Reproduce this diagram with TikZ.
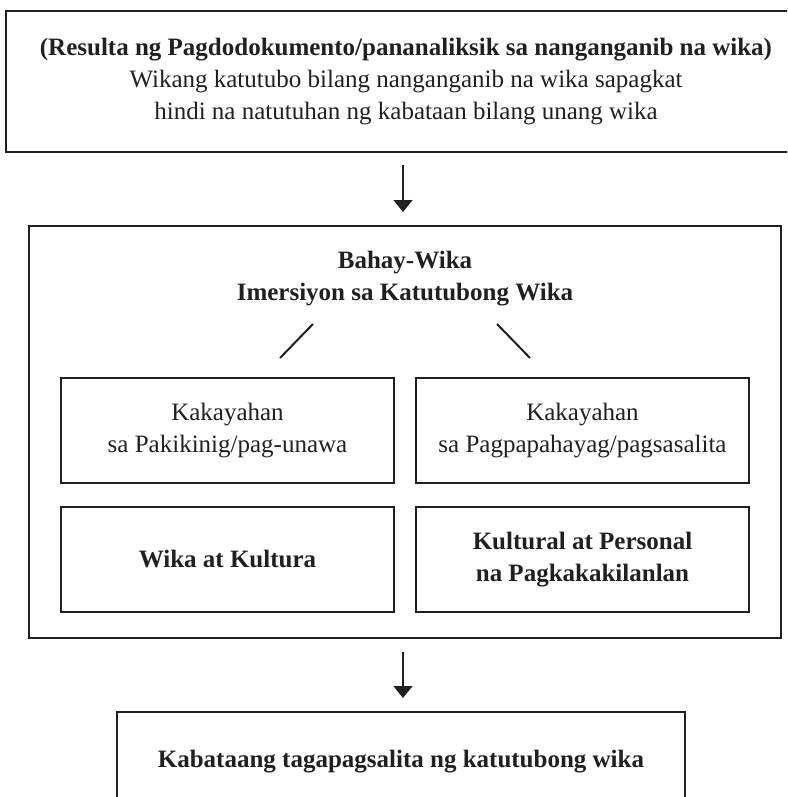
\documentclass[tikz,border=0pt]{standalone}
\usepackage{fontspec}
\setmainfont{Liberation Serif}
\usetikzlibrary{arrows.meta}
\definecolor{ink}{HTML}{231F20}
\newcommand{\mysz}{\fontsize{25}{32}\selectfont}
\begin{document}
\begin{tikzpicture}[x=1pt,y=-1pt,
  every node/.style={text=ink},
  box/.style={draw=ink,line width=2.6pt,rectangle,inner sep=0pt,align=center,
    font=\mysz},
  inbox/.style={box,minimum width=333pt,minimum height=105pt},
  txt/.style={align=center,inner sep=0pt,font=\mysz},
  arr/.style={draw=ink,line width=1.8pt,-{Triangle[length=12pt,width=19pt]}},
  diag/.style={draw=ink,line width=2pt}]
\path[use as bounding box,clip] (0,0) rectangle (787,797);
% top box
\node[box,minimum width=800pt,minimum height=141pt] (top) at (406,81.5)
  {\textbf{(Resulta ng Pagdodokumento/pananaliksik sa nanganganib na wika)}\\
   Wikang katutubo bilang nanganganib na wika sapagkat\\
   hindi na natutuhan ng kabataan bilang unang wika};
% outer middle box
\node[box,minimum width=752pt,minimum height=412pt] (outer) at (405,432) {};
\node[txt,font=\mysz\bfseries] (title) at (405,279)
  {Bahay-Wika\\Imersiyon sa Katutubong Wika};
\node[inbox] (lis) at (227.5,430.5) {Kakayahan\\sa Pakikinig/pag-unawa};
\node[inbox] (spk) at (582.5,430.5) {Kakayahan\\sa Pagpapahayag/pagsasalita};
\node[inbox,font=\mysz\bfseries] (cul) at (227.5,559.5) {Wika at Kultura};
\node[inbox,font=\mysz\bfseries] (per) at (582.5,559.5) {Kultural at Personal\\na Pagkakakilanlan};
% bottom box
\node[box,minimum width=568pt,minimum height=100pt,font=\mysz\bfseries] (bot) at (401,762)
  {Kabataang tagapagsalita ng katutubong wika};
% diagonal strokes
\coordinate (dl1) at (313,324); \coordinate (dl2) at (280,358);
\coordinate (dr1) at (497,324); \coordinate (dr2) at (530,358);
\draw[diag] (dl1) -- (dl2);
\draw[diag] (dr1) -- (dr2);
% arrows
\coordinate (a1s) at (403,165); \coordinate (a1e) at (403,212);
\coordinate (a2s) at (403,652); \coordinate (a2e) at (403,698);
\draw[arr] (a1s) -- (a1e);
\draw[arr] (a2s) -- (a2e);
\end{tikzpicture}
\end{document}
